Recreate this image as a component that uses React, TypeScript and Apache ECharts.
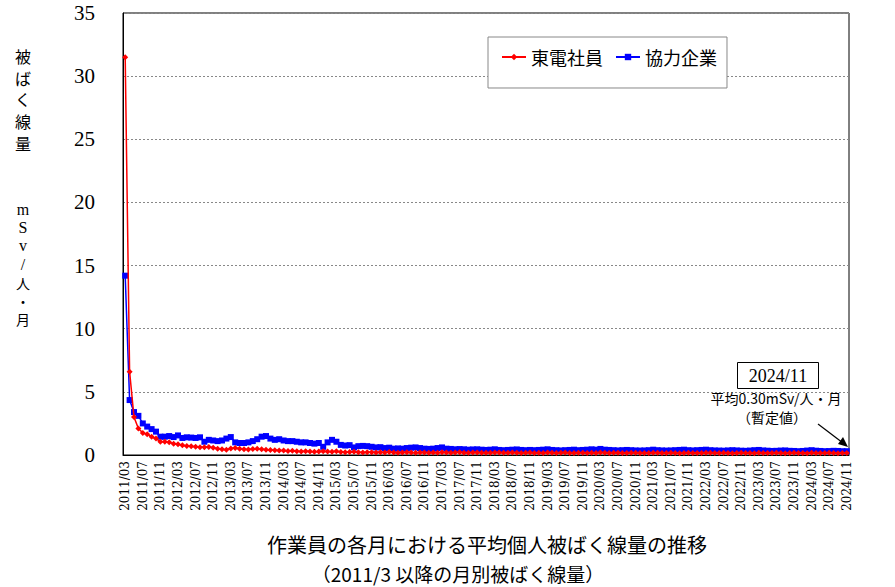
import React, { useEffect, useRef } from "react";
import * as echarts from "echarts";

const startYear = 2011;
const startMonth = 3;
const monthCount = 165;
const categories: string[] = [];
for (let i = 0; i < monthCount; i++) {
  const m = startMonth - 1 + i;
  const y = startYear + Math.floor(m / 12);
  const mm = (m % 12) + 1;
  categories.push(`${y}/${mm < 10 ? "0" + mm : mm}`);
}

const tepcoValues = [
  31.5, 6.6, 3.0, 2.1, 1.75, 1.65, 1.45, 1.3, 1.05, 1.05,
  1.0, 0.9, 0.85, 0.78, 0.72, 0.7, 0.66, 0.62, 0.62, 0.64, 0.58, 0.5,
  0.45, 0.42, 0.52, 0.55, 0.5, 0.46, 0.44, 0.47, 0.5, 0.46, 0.42, 0.4,
  0.38, 0.35, 0.36, 0.32, 0.33, 0.3, 0.28, 0.3, 0.27, 0.25, 0.28, 0.3,
  0.27, 0.25, 0.3, 0.24, 0.22, 0.23, 0.25, 0.22, 0.2, 0.22, 0.21, 0.2,
  0.22, 0.2, 0.24, 0.2, 0.18, 0.2, 0.22, 0.19, 0.18, 0.2, 0.2, 0.18,
  0.2, 0.18, 0.22, 0.2, 0.18, 0.19, 0.21, 0.18, 0.17, 0.19, 0.2, 0.17,
  0.18, 0.17, 0.2, 0.19, 0.17, 0.18, 0.2, 0.17, 0.16, 0.18, 0.19, 0.16,
  0.17, 0.16, 0.19, 0.18, 0.16, 0.17, 0.19, 0.16, 0.15, 0.17, 0.18, 0.16,
  0.17, 0.16, 0.2, 0.18, 0.16, 0.17, 0.18, 0.16, 0.15, 0.17, 0.18, 0.15,
  0.16, 0.15, 0.18, 0.17, 0.15, 0.16, 0.18, 0.15, 0.14, 0.16, 0.17, 0.15,
  0.16, 0.15, 0.18, 0.17, 0.15, 0.16, 0.17, 0.15, 0.14, 0.16, 0.17, 0.15,
  0.16, 0.14, 0.17, 0.16, 0.15, 0.16, 0.17, 0.15, 0.14, 0.16, 0.17, 0.15,
  0.16, 0.14, 0.17, 0.16, 0.15, 0.16, 0.17, 0.15, 0.14, 0.16, 0.15,
];

const contractorValues = [
  14.2, 4.35, 3.4, 3.1, 2.5, 2.25, 2.05, 1.85, 1.45, 1.45,
  1.5, 1.42, 1.55, 1.35, 1.4, 1.38, 1.35, 1.4, 1.05, 1.2, 1.15, 1.1,
  1.15, 1.3, 1.42, 1.0, 0.95, 0.95, 1.0, 1.1, 1.25, 1.45, 1.5, 1.3,
  1.2, 1.25, 1.15, 1.1, 1.1, 1.05, 1.0, 1.0, 0.95, 0.9, 0.95, 0.65,
  1.0, 1.2, 1.05, 0.8, 0.75, 0.78, 0.6, 0.7, 0.72, 0.7, 0.65, 0.6,
  0.62, 0.55, 0.58, 0.5, 0.52, 0.5, 0.55, 0.58, 0.6, 0.55, 0.5, 0.48,
  0.5, 0.55, 0.6, 0.5, 0.48, 0.45, 0.47, 0.45, 0.42, 0.44, 0.45, 0.42,
  0.4, 0.42, 0.45, 0.4, 0.38, 0.4, 0.42, 0.44, 0.4, 0.38, 0.4, 0.38,
  0.4, 0.42, 0.45, 0.4, 0.38, 0.36, 0.38, 0.4, 0.42, 0.38, 0.4, 0.42,
  0.45, 0.42, 0.48, 0.42, 0.4, 0.38, 0.36, 0.38, 0.4, 0.38, 0.36, 0.35,
  0.36, 0.38, 0.42, 0.38, 0.36, 0.35, 0.36, 0.38, 0.4, 0.42, 0.38, 0.36,
  0.38, 0.4, 0.42, 0.38, 0.36, 0.35, 0.34, 0.36, 0.38, 0.36, 0.34, 0.33,
  0.35, 0.38, 0.4, 0.36, 0.34, 0.32, 0.33, 0.35, 0.36, 0.33, 0.32, 0.3,
  0.32, 0.35, 0.38, 0.34, 0.32, 0.3, 0.31, 0.33, 0.32, 0.3, 0.3,
];

const seriesNames = ["東電社員", "協力企業"];
const yTicks = { min: 0, max: 35, interval: 5 };
const yTitleTop = ["被", "ば", "く", "線", "量"];
const yTitleUnit = ["m", "S", "v", "/", "人", "・", "月"];

const JP = "'Noto Sans CJK JP', sans-serif";
const SERIF = "'Liberation Serif', 'DejaVu Serif', serif";

export default function App() {
  const ref = useRef<HTMLDivElement>(null);
  useEffect(() => {
    document.body.style.margin = "0";
    if (!ref.current) return;
    const chart = echarts.init(ref.current, null, { renderer: "svg" });
    const titleChars: any[] = [];
    yTitleTop.forEach((c, i) => {
      titleChars.push({
        type: "text",
        x: 23,
        y: 56 + i * 21.7,
        style: { text: c, fontFamily: JP, fontSize: 16, fill: "#000", align: "center", verticalAlign: "middle" },
      });
    });
    yTitleUnit.forEach((c, i) => {
      titleChars.push({
        type: "text",
        x: 23,
        y: 209 + i * 18.4,
        style: {
          text: c,
          fontFamily: i < 4 ? SERIF : JP,
          fontSize: i < 4 ? 16 : 14,
          fill: "#000",
          align: "center",
          verticalAlign: "middle",
        },
      });
    });
    chart.setOption({
      animation: false,
      backgroundColor: "#fff",
      grid: {
        left: 123,
        top: 13,
        right: 46,
        bottom: 132,
        show: true,
        borderColor: "#000",
        borderWidth: 1,
        backgroundColor: "transparent",
      },
      legend: {
        data: seriesNames,
        left: 488,
        top: 37,
        orient: "horizontal",
        padding: [11, 10, 22, 13],
        itemGap: 12,
        itemWidth: 24,
        itemHeight: 8,
        borderColor: "#888",
        borderWidth: 1,
        backgroundColor: "#fff",
        textStyle: { fontFamily: JP, fontSize: 18, color: "#000" },
      },
      xAxis: {
        type: "category",
        data: categories,
        boundaryGap: true,
        axisLine: { lineStyle: { color: "#000", width: 1 } },
        axisTick: { interval: 3, inside: true, length: 4, lineStyle: { color: "#000" } },
        axisLabel: {
          interval: 3,
          rotate: 90,
          fontSize: 12,
          fontFamily: "'DejaVu Serif', serif",
          color: "#000",
          margin: 6,
        },
        splitLine: { show: false },
      },
      yAxis: {
        type: "value",
        min: yTicks.min,
        max: yTicks.max,
        interval: yTicks.interval,
        axisLine: { show: true, lineStyle: { color: "#000" } },
        axisTick: { show: false },
        axisLabel: { fontSize: 21, fontFamily: SERIF, color: "#000", margin: 28 },
        splitLine: { lineStyle: { color: "#888", type: [2, 2], width: 1 } },
      },
      series: [
        {
          name: seriesNames[0],
          type: "line",
          data: tepcoValues,
          z: 3,
          symbol: "diamond",
          symbolSize: 6,
          showSymbol: true,
          showAllSymbol: true,
          color: "#ff0000",
          lineStyle: { color: "#ff0000", width: 1.5 },
          itemStyle: { color: "#ff0000" },
        },
        {
          name: seriesNames[1],
          type: "line",
          data: contractorValues,
          z: 2,
          symbol: "rect",
          symbolSize: 6,
          showSymbol: true,
          showAllSymbol: true,
          color: "#0000ff",
          lineStyle: { color: "#0000ff", width: 1.5 },
          itemStyle: { color: "#0000ff" },
        },
      ],
      graphic: [
        ...titleChars,
        {
          type: "rect",
          shape: { x: 737.5, y: 362.5, width: 81, height: 26 },
          style: { fill: "#fff", stroke: "#000", lineWidth: 1 },
          z: 10,
        },
        {
          type: "text",
          x: 778,
          y: 376,
          z: 11,
          style: {
            text: "2024/11",
            fontFamily: SERIF,
            fontSize: 18,
            fill: "#000",
            align: "center",
            verticalAlign: "middle",
          },
        },
        {
          type: "text",
          x: 776,
          y: 398,
          z: 11,
          style: {
            text: "平均0.30mSv/人・月",
            fontFamily: JP,
            fontSize: 14,
            lineHeight: 16,
            fill: "#000",
            align: "center",
            verticalAlign: "middle",
          },
        },
        {
          type: "text",
          x: 772,
          y: 417,
          z: 11,
          style: {
            text: "（暫定値）",
            fontFamily: JP,
            fontSize: 14,
            lineHeight: 16,
            fill: "#000",
            align: "center",
            verticalAlign: "middle",
          },
        },
        {
          type: "line",
          z: 11,
          shape: { x1: 818, y1: 424, x2: 843, y2: 443 },
          style: { stroke: "#000", lineWidth: 1.2 },
        },
        {
          type: "polygon",
          z: 11,
          shape: { points: [[848, 447], [838, 444], [843, 437]] },
          style: { fill: "#000" },
        },
        {
          type: "text",
          x: 487,
          y: 544,
          style: {
            text: "作業員の各月における平均個人被ばく線量の推移",
            fontFamily: JP,
            fontSize: 20,
            fill: "#000",
            align: "center",
            verticalAlign: "middle",
          },
        },
        {
          type: "text",
          x: 458,
          y: 573,
          style: {
            text: "（2011/3 以降の月別被ばく線量）",
            fontFamily: JP,
            fontSize: 19,
            fill: "#000",
            align: "center",
            verticalAlign: "middle",
          },
        },
      ],
    });
    return () => chart.dispose();
  }, []);
  return <div ref={ref} style={{ width: 895, height: 587 }} />;
}
